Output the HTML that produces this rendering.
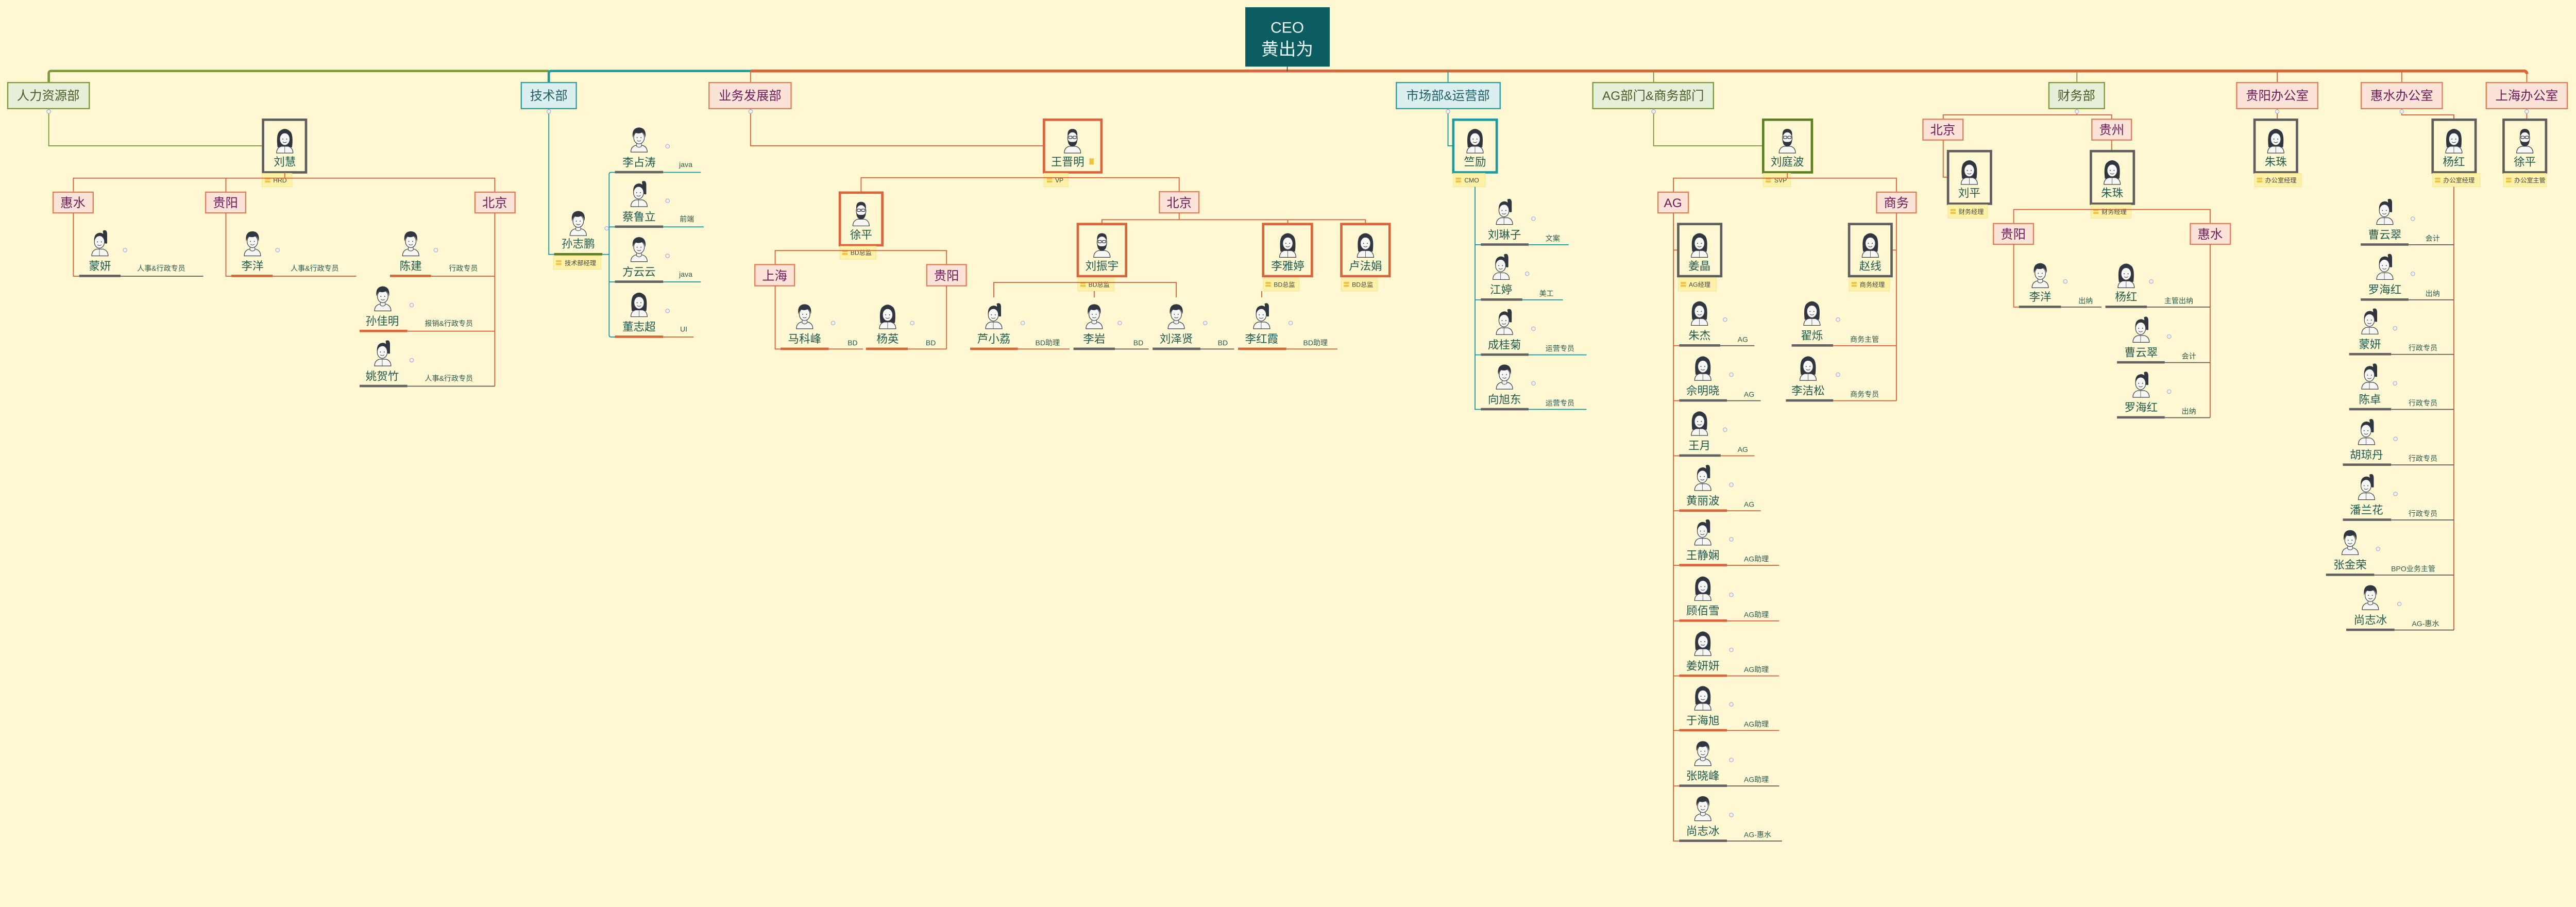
<!DOCTYPE html>
<html><head><meta charset="utf-8">
<style>
html,body{margin:0;padding:0;background:#fff8d2;overflow:hidden;width:100%;}
svg{display:block;width:100%;height:auto;}
text{font-family:"Liberation Sans","Noto Sans CJK SC",sans-serif;}
.nm{font-size:23px;fill:#1f5a50;text-anchor:middle;}
.rl{font-size:15px;fill:#2a5a50;}
.tg{font-size:13px;fill:#444;}
.cc{fill:#eef0f6;stroke:#a8aec4;stroke-width:1.2;}
.lo{stroke:#d9653b;stroke-width:2;fill:none;}
.lt{stroke:#1f9a9e;stroke-width:2;fill:none;}
.lg{stroke:#7a9a3e;stroke-width:2;fill:none;}
.lgr{stroke:#636363;stroke-width:2;fill:none;}
.bp{fill:#fbe3d7;stroke:#e0805a;stroke-width:2.5;}
.bb{fill:#dcefef;stroke:#2a9fa6;stroke-width:2.5;}
.bg{fill:#e6efd8;stroke:#7b9a3e;stroke-width:2.5;}
.tp{font-size:26px;fill:#6e1a5a;text-anchor:middle;}
.tb{font-size:26px;fill:#1e5e66;text-anchor:middle;}
.tgn{font-size:26px;fill:#4a5a2a;text-anchor:middle;}
.tagr{fill:#fff2a8;stroke:#f2e48e;stroke-width:1;}
</style></head>
<body>
<svg viewBox="0 0 5337 1760" preserveAspectRatio="xMinYMin meet" xmlns="http://www.w3.org/2000/svg">
<defs>
<g id="tagi"><rect x="0" y="0" width="11" height="4" fill="#f0c040"/><rect x="0" y="6" width="11" height="4" fill="#f0c040"/></g>
<symbol id="m" viewBox="0 0 40 56" overflow="visible">
<path d="M3 56 Q3 45 13 42 L27 42 Q37 45 37 56 Z" fill="#f6f6f3" stroke="#3a3f48" stroke-width="1.3"/>
<path d="M15 38 L15 44 Q20 48 25 44 L25 38Z" fill="#f6f6f3" stroke="#3a3f48" stroke-width="1"/>
<ellipse cx="20" cy="26" rx="11" ry="13" fill="#f7f7f5" stroke="#3a3f48" stroke-width="1.3"/>
<path d="M7 26 Q4 6 20 5 Q36 6 33 26 Q31 17 27 15 Q20 19 12 16 Q9 19 7 26Z" fill="#2f3640"/>
<circle cx="16" cy="26" r="1" fill="#333"/><circle cx="24" cy="26" r="1" fill="#333"/>
<path d="M16 32 Q20 35 24 32" stroke="#333" fill="none" stroke-width="1"/>
</symbol>
<symbol id="f" viewBox="0 0 40 56" overflow="visible">
<path d="M5 44 Q2 20 8 12 Q20 0 32 12 Q38 20 35 44 Z" fill="#2f3640"/>
<path d="M3 56 Q3 45 13 42 L27 42 Q37 45 37 56 Z" fill="#f6f6f3" stroke="#3a3f48" stroke-width="1.3"/>
<ellipse cx="20" cy="27" rx="10.5" ry="13" fill="#f7f7f5" stroke="#3a3f48" stroke-width="1.3"/>
<path d="M9 24 Q10 10 20 9 Q30 10 31 24 Q27 15 20 15 Q13 15 9 24Z" fill="#2f3640"/>
<circle cx="16" cy="27" r="1" fill="#333"/><circle cx="24" cy="27" r="1" fill="#333"/>
<path d="M16 33 Q20 36 24 33" stroke="#333" fill="none" stroke-width="1"/>
<path d="M20 42 L20 56" stroke="#3a3f48" stroke-width="0.8"/>
</symbol>
<symbol id="p" viewBox="0 0 40 56" overflow="visible">
<path d="M26 4 Q34 0 35 10 L35 30 Q31 32 29 28Z" fill="#2f3640"/>
<path d="M3 56 Q3 45 13 42 L27 42 Q37 45 37 56 Z" fill="#f6f6f3" stroke="#3a3f48" stroke-width="1.3"/>
<ellipse cx="19" cy="27" rx="10.5" ry="13" fill="#f7f7f5" stroke="#3a3f48" stroke-width="1.3"/>
<path d="M8 26 Q7 9 20 8 Q31 9 31 22 Q25 14 18 15 Q11 16 8 26Z" fill="#2f3640"/>
<circle cx="15" cy="27" r="1" fill="#333"/><circle cx="23" cy="27" r="1" fill="#333"/>
<path d="M15 33 Q19 36 23 33" stroke="#333" fill="none" stroke-width="1"/>
<path d="M19 42 L19 56" stroke="#3a3f48" stroke-width="0.8"/>
</symbol>
<symbol id="b" viewBox="0 0 40 56" overflow="visible">
<path d="M3 56 Q3 45 13 42 L27 42 Q37 45 37 56 Z" fill="#f6f6f3" stroke="#3a3f48" stroke-width="1.3"/>
<ellipse cx="20" cy="25" rx="10" ry="13" fill="#f7f7f5" stroke="#3a3f48" stroke-width="1.3"/>
<path d="M10 20 Q9 6 20 6 Q31 6 30 20 Q26 13 20 13 Q14 13 10 20Z" fill="#2f3640"/>
<path d="M10 26 Q10 42 20 42 Q30 42 30 26 Q28 34 20 33 Q12 34 10 26Z" fill="#2f3640"/>
<rect x="12" y="21" width="7" height="5" rx="1.5" fill="none" stroke="#2f3640" stroke-width="1.3"/>
<rect x="21" y="21" width="7" height="5" rx="1.5" fill="none" stroke="#2f3640" stroke-width="1.3"/>
</symbol>
</defs>

<rect width="5337" height="1760" fill="#fff8d2"/>

<!-- top bus -->
<path d="M101 170 V152 Q101 147 106 147 H1137" stroke="#7a9a3e" stroke-width="5" fill="none"/>
<path d="M1137 170 V152 Q1137 147 1142 147 H1556" stroke="#1f9a9e" stroke-width="5" fill="none"/>
<path d="M1556 147 H5229 Q5235 147 5235 153" stroke="#d9653b" stroke-width="6" fill="none"/>
<path d="M1555 147 V171" class="lo"/>
<path d="M3000 147 V171" class="lt"/>
<path d="M3426 147 V171" class="lg"/>
<path d="M4303 147 V171" class="lg"/>
<path d="M4718 147 V171" class="lo"/>
<path d="M4976 147 V171" class="lo"/>
<path d="M5235 150 V171" class="lo"/>
<path d="M2667 138 V147" stroke="#333" stroke-width="1.5"/>

<!-- CEO -->
<rect x="2580" y="15" width="175" height="123" fill="#0b5d62"/>
<text x="2667" y="68" font-size="32" fill="#eef6f4" text-anchor="middle">CEO</text>
<text x="2667" y="114" font-size="36" fill="#eef6f4" text-anchor="middle">黄出为</text>

<!-- dept boxes -->
<rect class="bg" x="16" y="171" width="169" height="54"/><text class="tgn" x="100" y="207">人力资源部</text>
<rect class="bb" x="1080" y="171" width="114" height="54"/><text class="tb" x="1137" y="207">技术部</text>
<rect class="bp" x="1469" y="171" width="170" height="54"/><text class="tp" x="1554" y="207">业务发展部</text>
<rect class="bb" x="2893" y="171" width="215" height="54"/><text class="tb" x="3000" y="207">市场部&amp;运营部</text>
<rect class="bg" x="3300" y="171" width="250" height="54"/><text class="tgn" x="3425" y="207">AG部门&amp;商务部门</text>
<rect class="bg" x="4245" y="171" width="115" height="54"/><text class="tgn" x="4302" y="207">财务部</text>
<rect class="bp" x="4634" y="171" width="168" height="54"/><text class="tp" x="4718" y="207">贵阳办公室</text>
<rect class="bp" x="4892" y="171" width="168" height="54"/><text class="tp" x="4976" y="207">惠水办公室</text>
<rect class="bp" x="5151" y="171" width="168" height="54"/><text class="tp" x="5235" y="207">上海办公室</text>

<!-- ===== HR ===== -->
<path d="M101 225 V302 H545" class="lg"/>
<rect x="545" y="248" width="89" height="109" fill="none" stroke="#5e5e5e" stroke-width="5"/>
<use href="#f" x="570" y="261" width="40" height="56"/>
<text class="nm" x="590" y="343">刘慧</text>
<rect class="tagr" x="543" y="359" width="62" height="28"/><use href="#tagi" x="549" y="368"/><text class="tg" x="566" y="378">HRD</text>
<path d="M152 398 V369 H1025 V398 M468 369 V398 M590 357 V369" class="lo"/>
<rect class="bp" x="110" y="398" width="83" height="43"/><text class="tp" x="151" y="429">惠水</text>
<rect class="bp" x="426" y="398" width="83" height="43"/><text class="tp" x="467" y="429">贵阳</text>
<rect class="bp" x="984" y="398" width="83" height="43"/><text class="tp" x="1025" y="429">北京</text>
<path d="M152 441 V572 H164 M468 441 V572 H479 M1025 441 V800" class="lo"/>

<use href="#p" x="187" y="474" width="40" height="56"/><text class="nm" x="207" y="559">蒙妍</text><circle class="cc" cx="259" cy="518" r="4"/>
<rect x="164" y="569" width="86" height="5" fill="#636363"/><path d="M250 572H421" class="lgr"/><text class="rl" x="284" y="561">人事&amp;行政专员</text>
<use href="#m" x="503" y="474" width="40" height="56"/><text class="nm" x="523" y="559">李洋</text><circle class="cc" cx="575" cy="518" r="4"/>
<rect x="479" y="569" width="86" height="5" fill="#d9653b"/><path d="M565 572H738" class="lo"/><text class="rl" x="602" y="561">人事&amp;行政专员</text>
<use href="#m" x="831" y="474" width="40" height="56"/><text class="nm" x="851" y="559">陈建</text><circle class="cc" cx="903" cy="518" r="4"/>
<rect x="808" y="569" width="85" height="5" fill="#d9653b"/><path d="M893 572H1025" class="lo"/><text class="rl" x="930" y="561">行政专员</text>
<use href="#m" x="773" y="588" width="40" height="56"/><text class="nm" x="792" y="673">孙佳明</text><circle class="cc" cx="853" cy="632" r="4"/>
<rect x="745" y="683" width="99" height="5" fill="#d9653b"/><path d="M844 686H1025" class="lo"/><text class="rl" x="880" y="675">报销&amp;行政专员</text>
<use href="#p" x="773" y="702" width="40" height="56"/><text class="nm" x="792" y="787">姚贺竹</text><circle class="cc" cx="853" cy="746" r="4"/>
<rect x="745" y="797" width="99" height="5" fill="#636363"/><path d="M844 800H1025" class="lgr"/><text class="rl" x="880" y="789">人事&amp;行政专员</text>

<!-- ===== Tech ===== -->
<path d="M1137 225 V527 H1148" class="lt"/>
<use href="#m" x="1178" y="432" width="40" height="56"/><text class="nm" x="1198" y="513">孙志鹏</text>
<rect x="1148" y="524" width="100" height="5" fill="#5d7f24"/>
<rect class="tagr" x="1147" y="530" width="98" height="28"/><use href="#tagi" x="1152" y="539"/><text class="tg" x="1170" y="549">技术部经理</text>
<path d="M1248 527 H1262 M1274 357 H1266 Q1262 357 1262 361 V694 Q1262 698 1266 698 H1274 M1262 470 H1274 M1262 584 H1274" class="lt"/>
<circle class="cc" cx="1257" cy="473" r="4"/>
<use href="#m" x="1304" y="259" width="40" height="56"/><text class="nm" x="1324" y="344">李占涛</text><circle class="cc" cx="1383" cy="303" r="4"/>
<rect x="1274" y="354" width="100" height="5" fill="#636363"/><path d="M1374 357H1452" class="lt"/><text class="rl" x="1407" y="346">java</text>
<use href="#p" x="1304" y="372" width="40" height="56"/><text class="nm" x="1324" y="457">蔡鲁立</text><circle class="cc" cx="1383" cy="416" r="4"/>
<rect x="1274" y="467" width="100" height="5" fill="#636363"/><path d="M1374 470H1458" class="lt"/><text class="rl" x="1408" y="459">前端</text>
<use href="#m" x="1304" y="486" width="40" height="56"/><text class="nm" x="1324" y="571">方云云</text><circle class="cc" cx="1383" cy="530" r="4"/>
<rect x="1274" y="581" width="100" height="5" fill="#636363"/><path d="M1374 584H1452" class="lt"/><text class="rl" x="1407" y="573">java</text>
<use href="#f" x="1304" y="600" width="40" height="56"/><text class="nm" x="1324" y="685">董志超</text><circle class="cc" cx="1383" cy="644" r="4"/>
<rect x="1274" y="695" width="100" height="5" fill="#d9653b"/><path d="M1374 698H1437" class="lo"/><text class="rl" x="1409" y="687">UI</text>

<!-- ===== BD ===== -->
<path d="M1555 225 V302 H2163" class="lo"/>
<rect x="2163" y="248" width="119" height="109" fill="none" stroke="#d9653b" stroke-width="5"/>
<use href="#b" x="2202" y="261" width="40" height="56"/>
<text class="nm" x="2212" y="343">王晋明</text><rect x="2257" y="328" width="9" height="13" fill="#f0c040"/>
<rect class="tagr" x="2163" y="359" width="50" height="28"/><use href="#tagi" x="2169" y="368"/><text class="tg" x="2186" y="378">VP</text>
<path d="M1784 399 V368 H2443 V397" class="lo"/>
<rect x="1740" y="399" width="88" height="109" fill="none" stroke="#d9653b" stroke-width="5"/>
<use href="#b" x="1764" y="412" width="40" height="56"/><text class="nm" x="1784" y="494">徐平</text>
<rect class="tagr" x="1740" y="510" width="75" height="27"/><use href="#tagi" x="1745" y="518"/><text class="tg" x="1762" y="528">BD总监</text>
<path d="M1606 548 V519 H1961 V548" class="lo"/>
<rect class="bp" x="1564" y="548" width="82" height="44"/><text class="tp" x="1605" y="580">上海</text>
<rect class="bp" x="1920" y="548" width="82" height="44"/><text class="tp" x="1961" y="580">贵阳</text>
<path d="M1606 592 V723 H1617 M1961 592 V723" class="lo"/>
<use href="#m" x="1647" y="625" width="40" height="56"/><text class="nm" x="1667" y="710">马科峰</text><circle class="cc" cx="1726" cy="669" r="4"/>
<rect x="1617" y="720" width="100" height="5" fill="#d9653b"/><path d="M1717 723H1788" class="lo"/><text class="rl" x="1756" y="715">BD</text>
<use href="#f" x="1819" y="625" width="40" height="56"/><text class="nm" x="1839" y="710">杨英</text><circle class="cc" cx="1890" cy="669" r="4"/>
<rect x="1794" y="720" width="87" height="5" fill="#d9653b"/><path d="M1881 723H1961" class="lo"/><text class="rl" x="1918" y="715">BD</text>

<rect class="bp" x="2402" y="397" width="82" height="44"/><text class="tp" x="2443" y="429">北京</text>
<path d="M2283 464 V455 H2829 V464 M2443 441 V455 M2668 455 V464" class="lo"/>
<rect x="2233" y="464" width="100" height="108" fill="none" stroke="#d9653b" stroke-width="5"/>
<use href="#b" x="2263" y="477" width="40" height="56"/><text class="nm" x="2283" y="559">刘振宇</text>
<rect class="tagr" x="2233" y="576" width="75" height="27"/><use href="#tagi" x="2238" y="584"/><text class="tg" x="2255" y="594">BD总监</text>
<rect x="2617" y="464" width="101" height="108" fill="none" stroke="#d9653b" stroke-width="5"/>
<use href="#f" x="2648" y="477" width="40" height="56"/><text class="nm" x="2668" y="559">李雅婷</text>
<rect class="tagr" x="2617" y="576" width="75" height="27"/><use href="#tagi" x="2622" y="584"/><text class="tg" x="2639" y="594">BD总监</text>
<rect x="2779" y="464" width="100" height="108" fill="none" stroke="#d9653b" stroke-width="5"/>
<use href="#f" x="2809" y="477" width="40" height="56"/><text class="nm" x="2829" y="559">卢法娟</text>
<rect class="tagr" x="2779" y="576" width="75" height="27"/><use href="#tagi" x="2784" y="584"/><text class="tg" x="2801" y="594">BD总监</text>
<path d="M2059 616 V585 H2437 V616 M2267 603 V616 M2614 603 V616" class="lo"/>
<use href="#p" x="2039" y="625" width="40" height="56"/><text class="nm" x="2059" y="710">芦小荔</text><circle class="cc" cx="2119" cy="669" r="4"/>
<rect x="2010" y="720" width="99" height="5" fill="#d9653b"/><path d="M2109 723H2216" class="lo"/><text class="rl" x="2145" y="715">BD助理</text>
<use href="#m" x="2247" y="625" width="40" height="56"/><text class="nm" x="2267" y="710">李岩</text><circle class="cc" cx="2320" cy="669" r="4"/>
<rect x="2224" y="720" width="86" height="5" fill="#636363"/><path d="M2310 723H2380" class="lgr"/><text class="rl" x="2348" y="715">BD</text>
<use href="#m" x="2417" y="625" width="40" height="56"/><text class="nm" x="2437" y="710">刘泽贤</text><circle class="cc" cx="2497" cy="669" r="4"/>
<rect x="2388" y="720" width="99" height="5" fill="#636363"/><path d="M2487 723H2557" class="lgr"/><text class="rl" x="2523" y="715">BD</text>
<use href="#p" x="2594" y="625" width="40" height="56"/><text class="nm" x="2614" y="710">李红霞</text><circle class="cc" cx="2674" cy="669" r="4"/>
<rect x="2565" y="720" width="100" height="5" fill="#d9653b"/><path d="M2665 723H2771" class="lo"/><text class="rl" x="2700" y="715">BD助理</text>

<!-- ===== Marketing ===== -->
<path d="M3000 225 V302 H3011" class="lt"/>
<rect x="3011" y="248" width="90" height="109" fill="none" stroke="#1f9a9e" stroke-width="5"/>
<use href="#f" x="3036" y="261" width="40" height="56"/><text class="nm" x="3056" y="343">竺励</text>
<rect class="tagr" x="3011" y="359" width="66" height="28"/><use href="#tagi" x="3016" y="368"/><text class="tg" x="3034" y="378">CMO</text>
<path d="M3056 387 V848 H3068 M3056 507 H3068 M3056 621 H3068 M3056 735 H3068" class="lt"/>
<use href="#p" x="3097" y="409" width="40" height="56"/><text class="nm" x="3117" y="494">刘琳子</text><circle class="cc" cx="3177" cy="453" r="4"/>
<rect x="3068" y="504" width="99" height="5" fill="#636363"/><path d="M3167 507H3250" class="lt"/><text class="rl" x="3202" y="499">文案</text>
<use href="#p" x="3090" y="523" width="40" height="56"/><text class="nm" x="3110" y="608">江婷</text><circle class="cc" cx="3164" cy="567" r="4"/>
<rect x="3068" y="618" width="86" height="5" fill="#636363"/><path d="M3154 621H3238" class="lt"/><text class="rl" x="3189" y="613">美工</text>
<use href="#p" x="3097" y="637" width="40" height="56"/><text class="nm" x="3117" y="722">成桂菊</text><circle class="cc" cx="3177" cy="681" r="4"/>
<rect x="3068" y="732" width="99" height="5" fill="#636363"/><path d="M3167 735H3287" class="lt"/><text class="rl" x="3202" y="727">运营专员</text>
<use href="#m" x="3097" y="750" width="40" height="56"/><text class="nm" x="3117" y="835">向旭东</text><circle class="cc" cx="3177" cy="794" r="4"/>
<rect x="3068" y="845" width="99" height="5" fill="#636363"/><path d="M3167 848H3287" class="lt"/><text class="rl" x="3202" y="840">运营专员</text>

<!-- ===== AG ===== -->
<path d="M3426 225 V302 H3653" class="lg"/>
<rect x="3653" y="248" width="101" height="109" fill="none" stroke="#5d7f24" stroke-width="5"/>
<use href="#b" x="3683" y="261" width="40" height="56"/><text class="nm" x="3703" y="343">刘庭波</text>
<rect class="tagr" x="3653" y="359" width="57" height="28"/><use href="#tagi" x="3658" y="368"/><text class="tg" x="3676" y="378">SVP</text>
<path d="M3467 398 V369 H3929 V398 M3703 357 V369" class="lo"/>
<rect class="bp" x="3435" y="398" width="63" height="43"/><text class="tp" x="3466" y="429">AG</text>
<rect class="bp" x="3888" y="398" width="82" height="43"/><text class="tp" x="3929" y="429">商务</text>
<path d="M3467 441 V1742 H3479 M3467 518 H3477" class="lo"/>
<rect x="3477" y="464" width="89" height="108" fill="none" stroke="#5e5e5e" stroke-width="5"/>
<use href="#f" x="3501" y="477" width="40" height="56"/><text class="nm" x="3521" y="559">姜晶</text>
<rect class="tagr" x="3477" y="576" width="79" height="27"/><use href="#tagi" x="3482" y="584"/><text class="tg" x="3499" y="594">AG经理</text>
<path d="M3467 716 H3479 M3467 830 H3479 M3467 944 H3479 M3467 1058 H3479 M3467 1171 H3479 M3467 1286 H3479 M3467 1400 H3479 M3467 1513 H3479 M3467 1628 H3479" class="lo"/>

<use href="#f" x="3501" y="618" width="40" height="56"/><text class="nm" x="3521" y="703">朱杰</text><circle class="cc" cx="3574" cy="662" r="4"/>
<rect x="3479" y="713" width="85" height="5" fill="#636363"/><path d="M3564 716H3635" class="lgr"/><text class="rl" x="3600" y="708">AG</text>
<use href="#f" x="3508" y="732" width="40" height="56"/><text class="nm" x="3528" y="817">佘明晓</text><circle class="cc" cx="3587" cy="776" r="4"/>
<rect x="3479" y="827" width="99" height="5" fill="#636363"/><path d="M3578 830H3648" class="lgr"/><text class="rl" x="3613" y="822">AG</text>
<use href="#f" x="3501" y="846" width="40" height="56"/><text class="nm" x="3521" y="931">王月</text><circle class="cc" cx="3574" cy="890" r="4"/>
<rect x="3479" y="941" width="86" height="5" fill="#636363"/><path d="M3565 944H3635" class="lo"/><text class="rl" x="3600" y="936">AG</text>
<use href="#p" x="3508" y="960" width="40" height="56"/><text class="nm" x="3528" y="1045">黄丽波</text><circle class="cc" cx="3587" cy="1004" r="4"/>
<rect x="3479" y="1055" width="99" height="5" fill="#d9653b"/><path d="M3578 1058H3648" class="lo"/><text class="rl" x="3613" y="1050">AG</text>
<use href="#p" x="3508" y="1073" width="40" height="56"/><text class="nm" x="3528" y="1158">王静娴</text><circle class="cc" cx="3587" cy="1117" r="4"/>
<rect x="3479" y="1168" width="99" height="5" fill="#d9653b"/><path d="M3578 1171H3686" class="lo"/><text class="rl" x="3613" y="1163">AG助理</text>
<use href="#f" x="3508" y="1188" width="40" height="56"/><text class="nm" x="3528" y="1273">顾佰雪</text><circle class="cc" cx="3587" cy="1232" r="4"/>
<rect x="3479" y="1283" width="99" height="5" fill="#d9653b"/><path d="M3578 1286H3686" class="lo"/><text class="rl" x="3613" y="1278">AG助理</text>
<use href="#f" x="3508" y="1302" width="40" height="56"/><text class="nm" x="3528" y="1387">姜妍妍</text><circle class="cc" cx="3587" cy="1346" r="4"/>
<rect x="3479" y="1397" width="99" height="5" fill="#d9653b"/><path d="M3578 1400H3686" class="lo"/><text class="rl" x="3613" y="1392">AG助理</text>
<use href="#f" x="3508" y="1415" width="40" height="56"/><text class="nm" x="3528" y="1500">于海旭</text><circle class="cc" cx="3587" cy="1459" r="4"/>
<rect x="3479" y="1510" width="99" height="5" fill="#d9653b"/><path d="M3578 1513H3686" class="lo"/><text class="rl" x="3613" y="1505">AG助理</text>
<use href="#m" x="3508" y="1530" width="40" height="56"/><text class="nm" x="3528" y="1615">张晓峰</text><circle class="cc" cx="3587" cy="1574" r="4"/>
<rect x="3479" y="1625" width="99" height="5" fill="#636363"/><path d="M3578 1628H3686" class="lgr"/><text class="rl" x="3613" y="1620">AG助理</text>
<use href="#m" x="3508" y="1644" width="40" height="56"/><text class="nm" x="3528" y="1729">尚志冰</text><circle class="cc" cx="3587" cy="1688" r="4"/>
<rect x="3479" y="1739" width="99" height="5" fill="#636363"/><path d="M3578 1742H3692" class="lgr"/><text class="rl" x="3613" y="1734">AG-惠水</text>

<path d="M3929 441 V830 M3919 518 H3929 M3798 716 H3929 M3798 830 H3929" class="lo"/>
<rect x="3831" y="464" width="88" height="108" fill="none" stroke="#5e5e5e" stroke-width="5"/>
<use href="#f" x="3855" y="477" width="40" height="56"/><text class="nm" x="3875" y="559">赵线</text>
<rect class="tagr" x="3831" y="576" width="84" height="27"/><use href="#tagi" x="3836" y="584"/><text class="tg" x="3853" y="594">商务经理</text>
<use href="#f" x="3734" y="618" width="40" height="56"/><text class="nm" x="3754" y="703">翟烁</text><circle class="cc" cx="3808" cy="662" r="4"/>
<rect x="3712" y="713" width="86" height="5" fill="#636363"/><text class="rl" x="3833" y="708">商务主管</text>
<use href="#f" x="3726" y="732" width="40" height="56"/><text class="nm" x="3746" y="817">李洁松</text><circle class="cc" cx="3808" cy="776" r="4"/>
<rect x="3700" y="827" width="98" height="5" fill="#636363"/><text class="rl" x="3833" y="822">商务专员</text>

<!-- ===== Finance ===== -->
<path d="M4026 247 V238 H4375 V247 M4303 225 V238" class="lo"/>
<rect class="bp" x="3984" y="247" width="83" height="43"/><text class="tp" x="4025" y="278">北京</text>
<rect class="bp" x="4334" y="247" width="82" height="43"/><text class="tp" x="4375" y="278">贵州</text>
<path d="M4026 290 V367 H4036 M4375 290 V313" class="lo"/>
<rect x="4036" y="313" width="89" height="109" fill="none" stroke="#5e5e5e" stroke-width="5"/>
<use href="#f" x="4060" y="326" width="40" height="56"/><text class="nm" x="4080" y="408">刘平</text>
<rect class="tagr" x="4036" y="424" width="82" height="28"/><use href="#tagi" x="4041" y="433"/><text class="tg" x="4058" y="443">财务经理</text>
<rect x="4332" y="313" width="89" height="109" fill="none" stroke="#5e5e5e" stroke-width="5"/>
<use href="#f" x="4356" y="326" width="40" height="56"/><text class="nm" x="4376" y="408">朱珠</text>
<rect class="tagr" x="4332" y="424" width="83" height="28"/><use href="#tagi" x="4337" y="433"/><text class="tg" x="4354" y="443">财务经理</text>
<path d="M4172 463 V434 H4579 V463" class="lo"/>
<rect class="bp" x="4130" y="463" width="83" height="43"/><text class="tp" x="4171" y="494">贵阳</text>
<rect class="bp" x="4538" y="463" width="83" height="43"/><text class="tp" x="4579" y="494">惠水</text>
<path d="M4172 506 V636 H4183 M4579 506 V865" class="lo"/>
<use href="#m" x="4207" y="540" width="40" height="56"/><text class="nm" x="4227" y="623">李洋</text><circle class="cc" cx="4279" cy="583" r="4"/>
<rect x="4183" y="633" width="87" height="5" fill="#636363"/><path d="M4270 636H4354" class="lgr"/><text class="rl" x="4306" y="628">出纳</text>
<use href="#f" x="4385" y="540" width="40" height="56"/><text class="nm" x="4405" y="623">杨红</text><circle class="cc" cx="4457" cy="583" r="4"/>
<rect x="4362" y="633" width="86" height="5" fill="#636363"/><path d="M4448 636H4579" class="lgr"/><text class="rl" x="4484" y="628">主管出纳</text>
<use href="#p" x="4416" y="653" width="40" height="56"/><text class="nm" x="4436" y="738">曹云翠</text><circle class="cc" cx="4494" cy="697" r="4"/>
<rect x="4386" y="748" width="99" height="5" fill="#636363"/><path d="M4485 751H4579" class="lgr"/><text class="rl" x="4520" y="743">会计</text>
<use href="#p" x="4416" y="767" width="40" height="56"/><text class="nm" x="4436" y="852">罗海红</text><circle class="cc" cx="4494" cy="811" r="4"/>
<rect x="4386" y="862" width="99" height="5" fill="#636363"/><path d="M4485 865H4579" class="lgr"/><text class="rl" x="4520" y="857">出纳</text>

<!-- ===== Offices ===== -->
<path d="M4718 225 V248" class="lo"/>
<rect x="4671" y="248" width="88" height="109" fill="none" stroke="#5e5e5e" stroke-width="5"/>
<use href="#f" x="4695" y="261" width="40" height="56"/><text class="nm" x="4715" y="343">朱珠</text>
<rect class="tagr" x="4671" y="359" width="97" height="28"/><use href="#tagi" x="4676" y="368"/><text class="tg" x="4693" y="378">办公室经理</text>

<path d="M4976 225 V238 H5084 V248" class="lo"/>
<rect x="5040" y="248" width="89" height="109" fill="none" stroke="#5e5e5e" stroke-width="5"/>
<use href="#f" x="5064" y="261" width="40" height="56"/><text class="nm" x="5084" y="343">杨红</text>
<rect class="tagr" x="5040" y="359" width="98" height="28"/><use href="#tagi" x="5045" y="368"/><text class="tg" x="5062" y="378">办公室经理</text>
<path d="M5084 387 V1305" class="lo"/>
<use href="#p" x="4921" y="409" width="40" height="56"/><text class="nm" x="4941" y="494">曹云翠</text><circle class="cc" cx="4999" cy="453" r="4"/>
<rect x="4891" y="504" width="99" height="5" fill="#636363"/><path d="M4990 507H5084" class="lgr"/><text class="rl" x="5025" y="499">会计</text>
<use href="#p" x="4921" y="523" width="40" height="56"/><text class="nm" x="4941" y="608">罗海红</text><circle class="cc" cx="4999" cy="567" r="4"/>
<rect x="4891" y="618" width="99" height="5" fill="#636363"/><path d="M4990 621H5084" class="lgr"/><text class="rl" x="5025" y="613">出纳</text>
<use href="#p" x="4890" y="636" width="40" height="56"/><text class="nm" x="4910" y="721">蒙妍</text><circle class="cc" cx="4962" cy="680" r="4"/>
<rect x="4867" y="731" width="87" height="5" fill="#636363"/><path d="M4954 734H5084" class="lgr"/><text class="rl" x="4990" y="726">行政专员</text>
<use href="#p" x="4890" y="750" width="40" height="56"/><text class="nm" x="4910" y="835">陈卓</text><circle class="cc" cx="4962" cy="794" r="4"/>
<rect x="4867" y="845" width="87" height="5" fill="#636363"/><path d="M4954 848H5084" class="lgr"/><text class="rl" x="4990" y="840">行政专员</text>
<use href="#p" x="4883" y="865" width="40" height="56"/><text class="nm" x="4903" y="950">胡琼丹</text><circle class="cc" cx="4963" cy="909" r="4"/>
<rect x="4854" y="960" width="100" height="5" fill="#636363"/><path d="M4954 963H5084" class="lgr"/><text class="rl" x="4990" y="955">行政专员</text>
<use href="#p" x="4883" y="979" width="40" height="56"/><text class="nm" x="4903" y="1064">潘兰花</text><circle class="cc" cx="4963" cy="1023" r="4"/>
<rect x="4854" y="1074" width="100" height="5" fill="#636363"/><path d="M4954 1077H5084" class="lgr"/><text class="rl" x="4990" y="1069">行政专员</text>
<use href="#m" x="4849" y="1093" width="40" height="56"/><text class="nm" x="4869" y="1178">张金荣</text><circle class="cc" cx="4927" cy="1137" r="4"/>
<rect x="4819" y="1188" width="100" height="5" fill="#636363"/><path d="M4919 1191H5084" class="lgr"/><text class="rl" x="4954" y="1183">BPO业务主管</text>
<use href="#m" x="4891" y="1207" width="40" height="56"/><text class="nm" x="4911" y="1292">尚志冰</text><circle class="cc" cx="4971" cy="1251" r="4"/>
<rect x="4861" y="1302" width="100" height="5" fill="#636363"/><path d="M4961 1305H5084" class="lgr"/><text class="rl" x="4997" y="1297">AG-惠水</text>

<path d="M5235 225 V248" class="lo"/>
<rect x="5187" y="248" width="88" height="109" fill="none" stroke="#5e5e5e" stroke-width="5"/>
<use href="#b" x="5211" y="261" width="40" height="56"/><text class="nm" x="5231" y="343">徐平</text>
<rect class="tagr" x="5187" y="359" width="88" height="28"/><use href="#tagi" x="5192" y="368"/><text class="tg" x="5209" y="378">办公室主管</text>

<circle class="cc" cx="101" cy="231" r="4"/><circle class="cc" cx="1137" cy="231" r="4"/><circle class="cc" cx="1555" cy="231" r="4"/>
<circle class="cc" cx="3000" cy="231" r="4"/><circle class="cc" cx="3426" cy="231" r="4"/><circle class="cc" cx="4303" cy="231" r="4"/>
<circle class="cc" cx="4718" cy="231" r="4"/><circle class="cc" cx="4976" cy="231" r="4"/><circle class="cc" cx="5235" cy="231" r="4"/>
</svg>
</body></html>
